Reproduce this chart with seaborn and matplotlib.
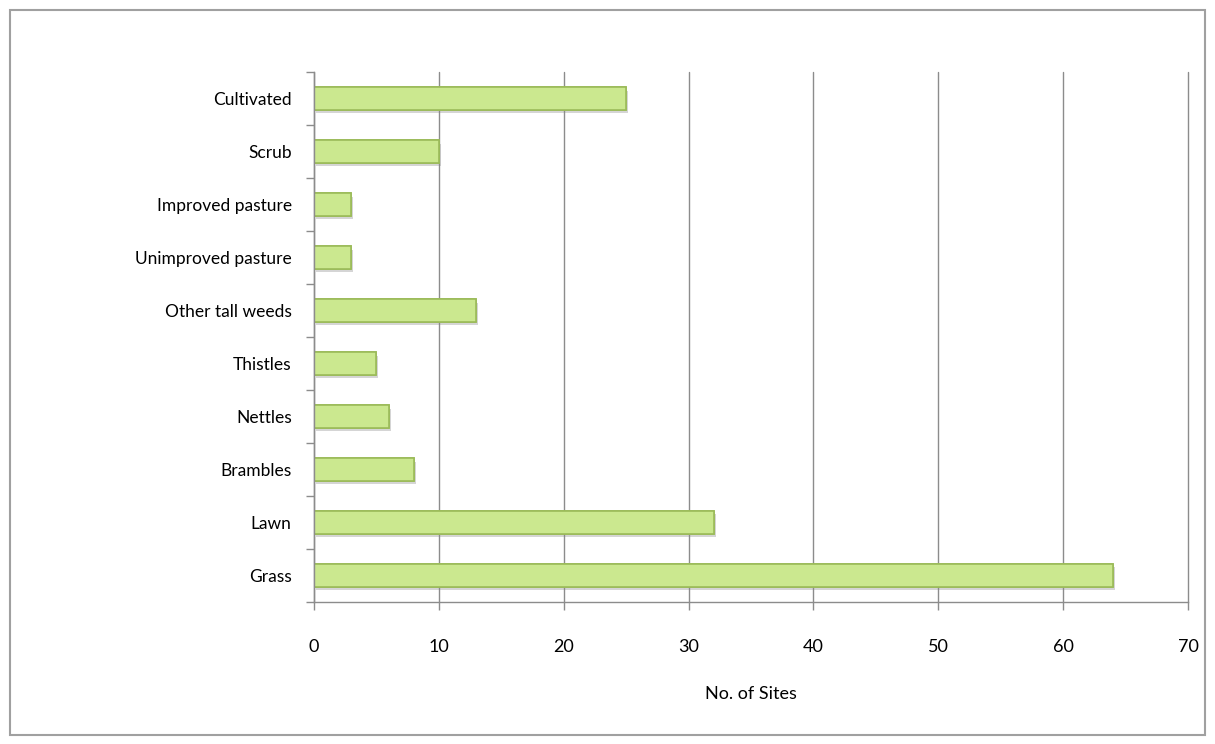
import numpy as np
import pandas as pd
import seaborn as sns
import matplotlib.pyplot as plt
import matplotlib.patheffects as pe
from matplotlib.patches import Rectangle

# Data (top to bottom as drawn)
habitats = ['Cultivated', 'Scrub', 'Improved pasture', 'Unimproved pasture',
            'Other tall weeds', 'Thistles', 'Nettles', 'Brambles', 'Lawn', 'Grass']
sites = [25, 10, 3, 3, 13, 5, 6, 8, 32, 64]
x_ticks = [0, 10, 20, 30, 40, 50, 60, 70]

df = pd.DataFrame({'Habitat': habitats, 'Sites': sites})

sns.set_style('white')
plt.rcParams['font.family'] = ['Lato', 'DejaVu Sans']
plt.rcParams['text.color'] = 'black'
plt.rcParams['xtick.color'] = 'black'
plt.rcParams['ytick.color'] = 'black'
plt.rcParams['axes.labelcolor'] = 'black'

fig = plt.figure(figsize=(12.15, 7.44), dpi=100)
ax = fig.add_axes([0.2584, 0.191, 0.7194, 0.7122])

sns.barplot(data=df, x='Sites', y='Habitat', order=habitats, orient='h',
            color='#cbe88f', edgecolor='#9bbb59', linewidth=1.2,
            width=0.43, saturation=1, ax=ax)
for p in ax.patches:
    p.set_path_effects([pe.withSimplePatchShadow(offset=(1.5, -2.5), shadow_rgbFace='#888888', alpha=0.35),
                        pe.Normal()])

ax.set_xlim(0, 70)
ax.set_ylim(len(habitats) - 0.5, -0.5)
ax.set_xticks(x_ticks)
ax.set_xticklabels([str(t) for t in x_ticks], fontsize=13)
ax.grid(axis='x', color='#8c8c8c', linewidth=1)
for gl in ax.get_xgridlines():
    gl.set_clip_on(False)
ax.set_axisbelow(True)

# y ticks at category boundaries
ax.set_yticks(np.arange(len(habitats)))
ax.set_yticks(np.arange(len(habitats) + 1) - 0.5, minor=True)
ax.tick_params(axis='y', which='both', left=True)
ax.tick_params(axis='x', which='both', bottom=True)
ax.tick_params(axis='y', which='major', length=0, labelsize=12.5, pad=16)
ax.tick_params(axis='y', which='minor', length=6, width=1, color='#8c8c8c', direction='out')
ax.tick_params(axis='x', which='major', length=6, width=1, color='#8c8c8c', direction='out', pad=21)

ax.set_xlabel('No. of Sites', fontsize=13, labelpad=22)
ax.set_ylabel('')

for s in ['top', 'right']:
    ax.spines[s].set_visible(False)
for s in ['left', 'bottom']:
    ax.spines[s].set_color('#8c8c8c')
    ax.spines[s].set_linewidth(1)

# chart border
fig.patches.append(Rectangle((10 / 1215, 9 / 744), 1195 / 1215, 725 / 744,
                             transform=fig.transFigure, fill=False,
                             edgecolor='#a0a0a0', linewidth=1.5))

fig.savefig('out.png', dpi=100)
